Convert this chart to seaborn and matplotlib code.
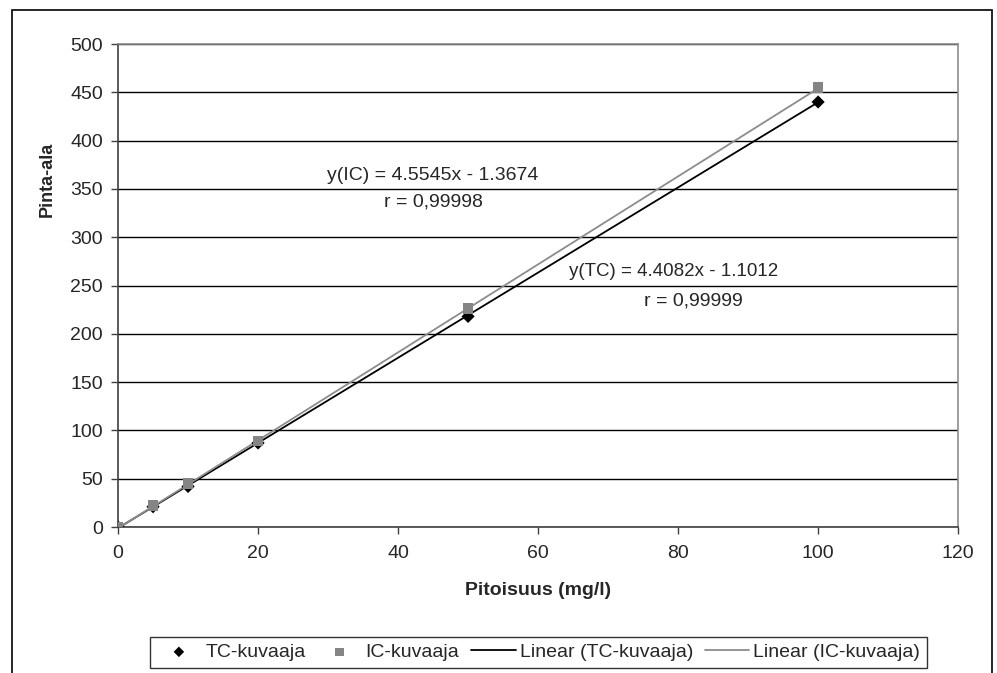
import numpy as np
import seaborn as sns
import matplotlib.pyplot as plt
from matplotlib.patches import Rectangle

# data
pitoisuus = [0, 5, 10, 20, 50, 100]
tc_ala = [0, 21, 42, 87, 218, 440]
ic_ala = [0, 22, 45, 89, 226, 455]
tc_fit = (4.4082, -1.1012)
ic_fit = (4.5545, -1.3674)
x_ticks = [0, 20, 40, 60, 80, 100, 120]
y_ticks = [0, 50, 100, 150, 200, 250, 300, 350, 400, 450, 500]

sns.set_style('white')
plt.rcParams['font.family'] = ['Liberation Sans', 'DejaVu Sans']

fig = plt.figure(figsize=(9.97, 6.73), dpi=100)
ax = fig.add_axes([0.1184, 0.2169, 0.8426, 0.7177])

xs = np.array([0, 100])
ax.plot(xs, tc_fit[0]*xs + tc_fit[1], color='black', lw=1.3, label='Linear (TC-kuvaaja)', zorder=3)
ax.plot(xs, ic_fit[0]*xs + ic_fit[1], color='#8c8c8c', lw=1.3, label='Linear (IC-kuvaaja)', zorder=3)
sns.scatterplot(x=pitoisuus, y=tc_ala, marker='D', color='black', s=45, edgecolor='none', label='TC-kuvaaja', ax=ax, zorder=4)
sns.scatterplot(x=pitoisuus, y=ic_ala, marker='s', color='#858585', s=60, edgecolor='none', label='IC-kuvaaja', ax=ax, zorder=4)
ax.get_legend().remove()

ax.set_xlim(0, 120)
ax.set_ylim(0, 500)
ax.set_xticks(x_ticks)
ax.set_yticks(y_ticks)
ax.yaxis.grid(True, color='black', lw=1.0)
ax.set_axisbelow(True)
for s in ['top', 'right']:
    ax.spines[s].set_color('#8c8c8c')
    ax.spines[s].set_linewidth(1.2)
for s in ['left', 'bottom']:
    ax.spines[s].set_color('#404040')
    ax.spines[s].set_linewidth(1.2)
ax.tick_params(axis='both', direction='out', length=5, width=1, color='#404040', labelsize=14, left=True, bottom=True)
ax.tick_params(axis='x', pad=8)
ax.tick_params(axis='y', pad=6)
ax.set_xlabel('Pitoisuus (mg/l)', fontsize=14, fontweight='bold', labelpad=14)
ax.set_ylabel('Pinta-ala', fontsize=13, fontweight='bold')
ax.yaxis.set_label_coords(-0.074, 0.72)

ax.text(45, 364, 'y(IC) = 4.5545x - 1.3674', fontsize=14, ha='center', va='center')
ax.text(45, 336, 'r = 0,99998', fontsize=14, ha='center', va='center')
ax.text(79.3, 264, 'y(TC) = 4.4082x - 1.1012', fontsize=13.5, ha='center', va='center')
ax.text(82.2, 234, 'r = 0,99999', fontsize=14, ha='center', va='center')

h, l = ax.get_legend_handles_labels()
order = [2, 3, 0, 1]
leg = fig.legend([h[i] for i in order], [l[i] for i in order], loc='center', bbox_to_anchor=(0.54, 0.031),
                 ncol=4, fontsize=14, frameon=True, fancybox=False, handlelength=2.3, handletextpad=0.2,
                 columnspacing=0.6, borderpad=0.35, markerscale=0.8)
leg.get_frame().set_edgecolor('black')
leg.get_frame().set_linewidth(1.0)

fig.patches.append(Rectangle((12/997, -0.1), 980/997, 1.1 - 10/673, transform=fig.transFigure,
                             fill=False, edgecolor='black', lw=1.2))

fig.savefig('out.png', dpi=100)
